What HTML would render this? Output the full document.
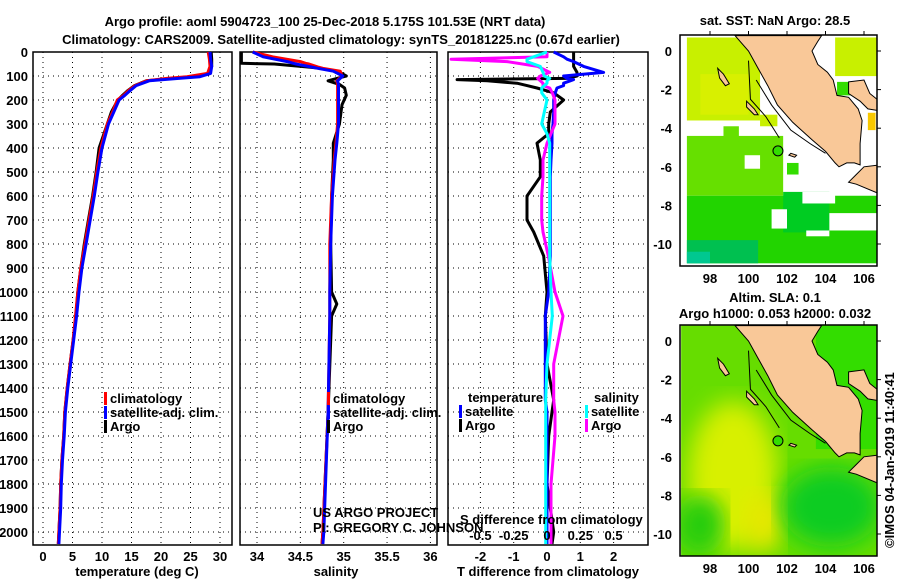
<!DOCTYPE html>
<html><head><meta charset="utf-8"><style>
body{margin:0;background:#fff}
svg{display:block}
text{font-family:"Liberation Sans",sans-serif;font-weight:bold;font-size:13px;fill:#000}
</style></head><body>
<svg id="fig" width="900" height="580" viewBox="0 0 900 580">
<text x="325" y="26" text-anchor="middle" font-size="15.5">Argo profile: aoml 5904723_100 25-Dec-2018 5.175S 101.53E (NRT data)</text>
<text x="341" y="44" text-anchor="middle" font-size="15.5">Climatology: CARS2009. Satellite-adjusted climatology: synTS_20181225.nc (0.67d earlier)</text>
<g id="g1"></g>
<g id="g2"></g>
<g id="g3"></g>
<g id="m1"></g>
<g id="m2"></g>
<text x="775" y="25" text-anchor="middle" font-size="15">sat. SST: NaN Argo: 28.5</text>
<text x="775" y="302" text-anchor="middle" font-size="14">Altim. SLA: 0.1</text>
<text x="775" y="318" text-anchor="middle" font-size="14">Argo h1000: 0.053 h2000: 0.032</text>
<text transform="translate(894,548) rotate(-90)" font-weight="normal" font-size="13.5">©IMOS 04-Jan-2019 11:40:41</text>
<text x="137" y="576" text-anchor="middle" font-size="14.5">temperature (deg C)</text>
<text x="336" y="576" text-anchor="middle" font-size="14.5">salinity</text>
<text x="548" y="576" text-anchor="middle" font-size="14.5">T difference from climatology</text>
<text x="313" y="517" font-weight="normal" font-size="13.5">US ARGO PROJECT</text>
<text x="313" y="532" font-weight="normal" font-size="13.5">PI: GREGORY C. JOHNSON</text>
</svg>
<script>
// ---------- data ----------
const depthT = [0,30,60,89,103,110,120,140,160,180,200,250,300,400,500,600,700,800,900,1000,1100,1200,1300,1400,1500,1600,1700,1800,1900,2000,2050];
const tempArgo = [28.5,28.6,28.6,28.2,25.4,22,17.5,15.5,14.4,13.5,12.7,11.6,10.9,9.5,9.0,8.4,7.7,7.0,6.4,5.9,5.6,5.1,4.6,4.1,3.7,3.5,3.2,3.0,2.9,2.7,2.6];
const tempClim = [28.0,28.2,28.3,27.9,24.4,21,17.6,15.6,14.5,13.7,12.6,11.8,10.9,9.8,9.1,8.5,7.8,7.1,6.4,5.9,5.5,5.1,4.6,4.1,3.7,3.5,3.2,3.0,2.9,2.7,2.6];
const tempSat = [28.3,28.4,28.6,28.4,26.6,23,18,15.8,14.8,13.9,12.9,12.0,11.1,10.0,9.3,8.7,8.0,7.3,6.6,6.1,5.7,5.2,4.7,4.2,3.8,3.6,3.3,3.1,3.0,2.8,2.7];
const depthS = [0,20,40,47,50,62,68,80,100,110,120,135,150,180,220,300,380,450,600,800,1000,1050,1100,1500,2000,2050];
const salArgo = [33.82,33.82,33.82,33.82,34.2,34.57,34.73,34.93,35.03,34.92,34.82,34.95,35.01,35.03,34.98,34.95,34.88,34.88,34.86,34.85,34.86,34.92,34.86,34.82,34.76,34.75];
const salClim = [33.95,34.18,34.5,34.56,34.6,34.7,34.76,34.96,34.98,34.95,34.92,34.93,34.93,34.93,34.93,34.93,34.91,34.89,34.86,34.84,34.84,34.84,34.84,34.82,34.76,34.75];
const salSat = [33.95,34.07,34.35,34.42,34.45,34.62,34.7,34.88,34.99,34.96,34.93,34.94,34.94,34.94,34.94,34.94,34.92,34.9,34.87,34.85,34.84,34.84,34.84,34.82,34.77,34.76];
const depthD = [0,20,30,40,60,85,100,110,115,120,130,140,150,170,200,250,300,340,380,450,520,600,700,750,850,1000,1100,1300,1450,1500,1600,1800,1900,2000,2050];
const tdiffArgo = [0.8,0.8,0.8,0.8,0.8,0.9,0.9,0.6,-2.7,-1.8,-0.9,-0.6,-0.3,0.2,0.5,0.1,0.05,0.05,-0.3,-0.2,-0.2,-0.6,-0.6,-0.4,-0.1,0,-0.05,0,0.2,0.15,0.05,0,0.1,0.2,0.15];
const tdiffSat = [0.2,0.5,0.6,0.8,1.1,1.7,0.5,0.6,0.8,0.7,0.5,0.5,0.3,0.25,0.2,0.2,0.18,0.15,0.15,0.12,0.1,0.1,0.1,0.1,0.1,0.05,-0.05,-0.05,-0.05,0,0,0,0,0,0];
const sdiffArgo = [0,0,-0.72,-0.3,-0.07,0.02,-0.05,-0.07,-0.06,-0.05,-0.03,-0.03,0.02,0.04,0.06,0.06,0.06,0.03,0,-0.03,-0.03,-0.04,-0.04,-0.03,0.01,0.06,0.12,0.05,0.05,0.06,0.06,0.03,0.03,0.03,0.03];
const sdiffSat = [0,-0.1,-0.15,-0.15,-0.05,-0.03,-0.02,0.02,0.01,0,0,-0.02,-0.04,-0.04,0,-0.02,-0.04,0,0.02,0.02,0.02,0.02,0.02,0.02,0.02,0.03,0.04,0,-0.01,-0.01,-0.01,-0.01,-0.01,-0.01,-0.01];
const tTicks = [0,5,10,15,20,25,30];
const sTicks = [34,34.5,35,35.5,36];
const dTicks = [-2,-1,0,1,2];
const sdTicks = [-0.5,-0.25,0,0.25,0.5];
const depthTicks = [0,100,200,300,400,500,600,700,800,900,1000,1100,1200,1300,1400,1500,1600,1700,1800,1900,2000];
const lonTicks = [98,100,102,104,106];
const latTicks = [0,-2,-4,-6,-8,-10];

const NS='http://www.w3.org/2000/svg';
function el(parent,tag,attrs,txt){const e=document.createElementNS(NS,tag);for(const k in attrs)e.setAttribute(k,attrs[k]);if(txt!==undefined)e.textContent=txt;parent.appendChild(e);return e;}
const Y0=52,Y1=545,DMAX=(545-52)/0.24;
const yD=d=>Y0+d*(Y1-Y0)/DMAX;

function panel(g,x0,x1,vmin,vmax,ticks,depthLabels,name){
  const xs=v=>x0+(v-vmin)/(vmax-vmin)*(x1-x0);
  ticks.forEach(t=>{const l=el(g,'line',{x1:xs(t),x2:xs(t),y1:Y0,y2:Y1,stroke:'#000','stroke-dasharray':'1,4'});
    
    });
  depthTicks.forEach(d=>{const l=el(g,'line',{x1:x0,x2:x1,y1:yD(d),y2:yD(d),stroke:'#000','stroke-dasharray':'1,4'});
    
    
    if(depthLabels){const t=el(g,'text',{x:28,y:yD(d)+5,'text-anchor':'end','font-size':13.5},d);
      
      }});
  const r=el(g,'rect',{x:x0,y:Y0,width:x1-x0,height:Y1-Y0,fill:'none',stroke:'#000','stroke-width':1.5});
  
  
  return xs;
}
function line(g,xs,vals,depths,color,name){
  const p=el(g,'polyline',{points:vals.map((v,i)=>xs(v).toFixed(1)+','+yD(depths[i]).toFixed(1)).join(' '),fill:'none',stroke:color,'stroke-width':3,'stroke-linejoin':'round'});
  
  
}
function ticklabels(g,xs,ticks,y,fs){
  ticks.forEach(t=>{const tx=el(g,'text',{x:xs(t),y:y,'text-anchor':'middle','font-size':fs},t);
    
    });
}
function legend(g,x,y,color,label){
  const r=el(g,'rect',{x:x,y:y-11,width:3,height:13,fill:color});
  
  
  const t=el(g,'text',{x:x+6,y:y,'font-size':14},label);
  
  
}
// panel 1
const g1=document.getElementById('g1');
const x1s=panel(g1,33,232,-10/5.9,189/5.9,tTicks,true,'temp');
line(g1,x1s,tempArgo,depthT,'#000','temp-argo-line');
line(g1,x1s,tempClim,depthT,'#f00','temp-clim-line');
line(g1,x1s,tempSat,depthT,'#00f','temp-sat-line');
ticklabels(g1,x1s,tTicks,561,14);
legend(g1,104,403,'#f00','climatology');legend(g1,104,417,'#00f','satellite-adj. clim.');legend(g1,104,431,'#000','Argo');
// panel 2
const g2=document.getElementById('g2');
const x2s=panel(g2,240,437,34-17/86.7,34+180/86.7,sTicks,false,'sal');
line(g2,x2s,salArgo,depthS,'#000','sal-argo-line');
line(g2,x2s,salClim,depthS,'#f00','sal-clim-line');
line(g2,x2s,salSat,depthS,'#00f','sal-sat-line');
ticklabels(g2,x2s,sTicks,561,14);
legend(g2,327,403,'#f00','climatology');legend(g2,327,417,'#00f','satellite-adj. clim.');legend(g2,327,431,'#000','Argo');
// panel 3
const g3=document.getElementById('g3');
const x3s=panel(g3,448,648,-99/33.3,101/33.3,dTicks,false,'diff');
const x3ss=v=>x3s(v*4);
line(g3,x3s,tdiffArgo,depthD,'#000','tdiff-argo-line');
line(g3,x3s,tdiffSat,depthD,'#00f','tdiff-sat-line');
line(g3,x3ss,sdiffArgo,depthD,'#f0f','sdiff-argo-line');
line(g3,x3ss,sdiffSat,depthD,'#0ff','sdiff-sat-line');
ticklabels(g3,x3s,dTicks,561,14);
ticklabels(g3,x3ss,sdTicks,540,14);
const sdt=el(g3,'text',{x:460,y:524,'font-size':14},'S difference from climatology');


const tl=el(g3,'text',{x:468,y:402,'font-size':14},'temperature');
const sl=el(g3,'text',{x:594,y:402,'font-size':14},'salinity');
legend(g3,459,416,'#00f','satellite');legend(g3,459,430,'#000','Argo');
legend(g3,585,416,'#0ff','satellite');legend(g3,585,430,'#f0f','Argo');

// ---------- maps ----------
const land=[[99.3,0.8],[100,0],[100.5,-0.9],[101,-1.8],[101.5,-2.8],[102.3,-3.7],[103.3,-4.6],[104,-5.2],[104.5,-5.8],[104.7,-6.0],[105.1,-5.8],[105.5,-5.8],[105.8,-5.9],[105.8,-4.8],[105.9,-3.6],[105.7,-3.0],[105.2,-2.4],[104.6,-2.3],[104.4,-1.5],[104.1,-1.1],[103.6,-0.7],[103.3,0],[103.6,0.5],[103.8,0.8]];
const java=[[106.8,-5.9],[106,-6],[105.6,-6.4],[105.2,-6.8],[105.6,-6.9],[106.8,-7.4]];
const bangka=[[105.2,-1.6],[106,-1.5],[106.3,-2.2],[106.8,-2.6],[106.8,-3.1],[106.2,-3.0],[105.8,-2.6],[105.2,-2.2]];
const islands=[[[98.4,-0.9],[98.7,-1.2],[99.0,-1.7],[98.8,-1.8],[98.5,-1.4]],[[99.9,-2.6],[100.3,-3.0],[100.5,-3.3],[100.3,-3.3],[99.9,-2.9]],[[102.2,-5.3],[102.5,-5.4],[102.4,-5.5],[102.1,-5.4]]];
function map(id,y0,y1,isSST){
  const g=document.getElementById(id);
  const mx0=680,mx1=877;
  const px=lon=>710+(lon-98)*19.25, py=lat=>(y0+16)+(-lat)*19.3;
  const defs=el(g,'defs',{});
  el(g,'clipPath',{id:id+'c'});
  el(g.lastChild,'rect',{x:mx0,y:y0,width:mx1-mx0,height:y1-y0});
  const cg=el(g,'g',{'clip-path':'url(#'+id+'c)'});
  const R=(a,b,c,d,f,nm)=>{const r=el(cg,'rect',{x:px(a),y:py(b),width:px(c)-px(a),height:py(d)-py(b),fill:f});};
  if(isSST){
    R(96.5,0.8,106.8,-11.2,'#fff','map-background');
    R(96.8,0.7,100.6,-3.6,'#c8f000','sst-north-patch');
    R(97.5,-1.2,100,-3.3,'#d8f000','sst-north-warm');
    R(100.6,-3.3,101.5,-3.9,'#c8f000','sst-patch');
    R(104.5,0.7,106.8,-1.3,'#c8f000','sst-ne-patch');
    R(104.6,-1.6,105.4,-2.3,'#33dd00','sst-patch');
    R(106.2,-3.2,106.6,-4.1,'#f8c800','sst-warm-cell');
    R(96.8,-4.4,101.8,-7.5,'#66e000','sst-south-patch');
    R(98.7,-3.9,99.5,-4.7,'#66e000','sst-patch');
    R(96.8,-7.5,106.8,-11,'#22d400','sst-south-band');
    R(101.8,-7.3,104.2,-9.4,'#00cc22','sst-patch');
    R(96.8,-9.8,100.5,-11,'#00c050','sst-sw-patch');
    R(96.8,-10.4,98,-11,'#00c890','sst-teal-patch');
    R(101.2,-8.2,102,-9.2,'#fff','sst-gap');R(103,-9.3,104.2,-9.6,'#fff','sst-gap');R(99.8,-5.4,100.6,-6.1,'#fff','sst-gap');
    R(104.2,-8.4,106.8,-9.3,'#fff','sst-gap');R(102.8,-7.3,104.5,-7.9,'#fff','sst-gap');
    R(102,-5.8,102.6,-6.4,'#33dd00','sst-patch');
  }else{
    const lg=el(defs,'filter',{id:'blur2'});el(lg,'feGaussianBlur',{stdDeviation:12});
    R(96.5,0.8,106.8,-11.2,'#66dd00','map-background');
    const e1=el(cg,'ellipse',{cx:px(99.2),cy:py(-7),rx:45,ry:75,fill:'#d8f000',filter:'url(#blur2)'});
    
    const e0=el(cg,'ellipse',{cx:px(100.8),cy:py(-9.4),rx:20,ry:30,fill:'#e8e800',filter:'url(#blur2)'});
    
    const e2=el(cg,'ellipse',{cx:px(104.3),cy:py(-8.6),rx:50,ry:40,fill:'#11cc22',filter:'url(#blur2)'});
    
    const e3=el(cg,'ellipse',{cx:px(97.5),cy:py(-9.5),rx:25,ry:30,fill:'#22cc11',filter:'url(#blur2)'});
    
    R(103.5,0.8,106.8,-5.6,'#33dd00','sla-ne-patch');
  }
  const poly=(pts,nm)=>{const p=el(cg,'polygon',{points:pts.map(q=>px(q[0]).toFixed(1)+','+py(q[1]).toFixed(1)).join(' '),fill:'#f9c898',stroke:'#000','stroke-width':1});};
  poly(land,'sumatra-land');poly(java,'java-land');poly(bangka,'bangka-land');
  islands.forEach(q=>poly(q,'island'));
  const con=el(cg,'polyline',{points:[[100,-0.5],[100.1,-2.5],[100.9,-3.4],[101.6,-4.5]].map(q=>px(q[0])+','+py(q[1])).join(' '),fill:'none',stroke:'#000'});
  
  const con2=el(cg,'polyline',{points:[[100.4,-1.5],[101.2,-2.8],[102.2,-4.1],[103.2,-4.8],[104,-5.3]].map(q=>px(q[0])+','+py(q[1])).join(' '),fill:'none',stroke:'#000'});
  
  const c=el(cg,'circle',{cx:px(101.53),cy:py(-5.175),r:5,fill:'#33dd00',stroke:'#000','stroke-width':1});
  
  const fr=el(g,'rect',{x:mx0,y:y0,width:mx1-mx0,height:y1-y0,fill:'none',stroke:'#000','stroke-width':1.5});
  
  lonTicks.forEach(l=>{const t=el(g,'text',{x:px(l),y:y1+17,'text-anchor':'middle','font-size':14},l);
    
    el(g,'line',{x1:px(l),x2:px(l),y1:y0-4,y2:y0,stroke:'#000'});});
  latTicks.forEach(l=>{const t=el(g,'text',{x:mx0-8,y:py(l)+5,'text-anchor':'end','font-size':14},l);
    
    el(g,'line',{x1:mx1,x2:mx1+4,y1:py(l),y2:py(l),stroke:'#000'});});
}
map('m1',35,266,true);
map('m2',325,556,false);
</script>
</body></html>
